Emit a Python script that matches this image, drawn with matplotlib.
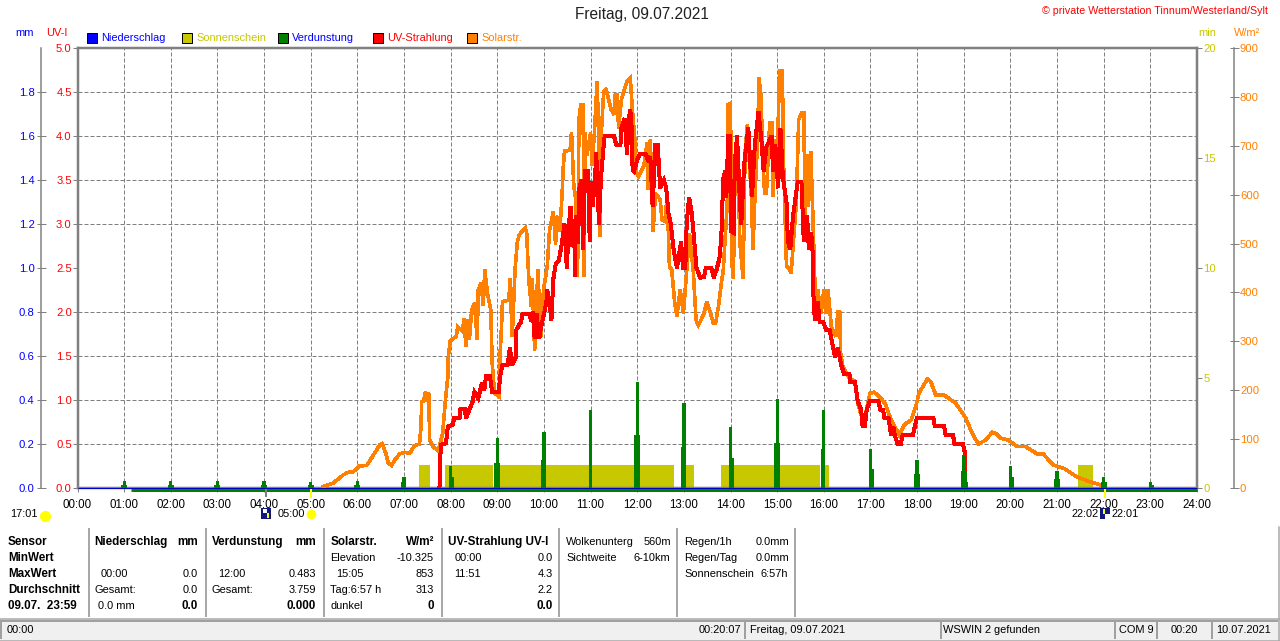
import matplotlib
matplotlib.use("Agg")
import matplotlib.pyplot as plt
from matplotlib.patches import Rectangle
from matplotlib.transforms import offset_copy

plt.rcParams['font.family'] = ['Liberation Sans', 'DejaVu Sans']

# Solarstrahlung (Stunde, W/m2)
sol_h = [5.27,5.48,5.70,5.80,5.91,6.05,6.20,6.30,6.48,6.53,6.61,6.66,6.73,6.80,6.91,7.01,7.12,7.23,7.33,7.36,
         7.38,7.42,7.46,7.48,7.53,7.55,7.62,7.73,7.83,7.88,7.94,7.95,7.99,8.12,8.15,8.26,8.28,8.33,8.37,8.40,
         8.45,8.51,8.57,8.59,8.65,8.70,8.73,8.79,8.86,8.89,8.94,9.04,9.06,9.09,9.11,9.25,9.27,9.32,9.38,9.43,
         9.47,9.60,9.63,9.65,9.68,9.73,9.75,9.80,9.84,9.87,9.93,9.99,10.07,10.12,10.20,10.25,10.27,10.34,10.39,10.41,
         10.44,10.56,10.59,10.64,10.68,10.72,10.75,10.79,10.84,10.86,10.88,10.92,11.00,11.03,11.08,11.14,11.17,11.20,11.23,11.28,
         11.33,11.39,11.44,11.50,11.53,11.57,11.60,11.66,11.71,11.78,11.85,11.89,11.95,11.98,12.03,12.14,12.21,12.23,12.28,12.34,
         12.39,12.49,12.53,12.60,12.64,12.69,12.74,12.80,12.85,12.92,12.99,13.06,13.12,13.16,13.20,13.26,13.31,13.42,13.49,13.56,
         13.63,13.68,13.74,13.81,13.84,13.93,13.95,14.00,14.02,14.06,14.09,14.16,14.20,14.27,14.31,14.36,14.40,14.45,14.48,14.52,
         14.58,14.61,14.66,14.68,14.73,14.77,14.84,14.90,14.91,14.95,15.00,15.05,15.11,15.14,15.20,15.25,15.30,15.36,15.41,15.46,
         15.52,15.57,15.60,15.64,15.67,15.72,15.77,15.80,15.84,15.87,15.94,16.00,16.04,16.09,16.16,16.26,16.30,16.34,16.36,16.41,
         16.55,16.67,16.73,16.83,16.90,16.99,17.08,17.23,17.33,17.44,17.62,17.72,17.87,17.97,18.04,18.22,18.29,18.40,18.58,18.83,
         19.04,19.18,19.31,19.47,19.61,19.68,19.79,19.96,20.14,20.32,20.57,20.71,20.92,21.17,21.42,21.67,22.03]
sol_w = [3,10,27,32,33,45,46,61,88,91,71,52,46,57,70,73,71,87,90,119,
         177,177,197,177,194,98,85,76,112,173,228,269,301,310,330,320,347,289,344,303,
         364,378,303,405,419,374,446,398,364,255,194,187,275,330,381,385,429,310,446,504,
         518,532,521,477,419,371,429,282,378,446,310,405,453,528,566,498,556,525,603,651,
         689,691,727,617,590,433,753,784,784,433,727,680,727,660,725,832,725,515,725,811,
         815,794,774,764,805,805,736,794,811,832,839,781,712,644,637,658,706,610,712,525,
         603,590,549,545,603,453,446,381,351,405,357,446,521,480,446,344,333,354,381,361,
         337,337,371,425,440,583,784,787,467,429,603,664,501,429,685,743,671,590,487,590,
         712,839,794,692,603,603,747,747,597,712,671,853,853,651,453,450,440,520,583,753,
         767,767,559,682,576,689,542,440,344,405,357,405,357,405,330,310,361,361,275,248,
         224,218,173,139,153,194,196,183,170,139,108,129,139,166,194,223,218,190,190,173,
         143,112,90,98,114,112,102,98,85,85,70,69,47,39,23,14,3]

# UV-Strahlung (Stunde, UV-I)
uv_h = [7.76,7.77,7.79,7.90,7.94,8.05,8.07,8.19,8.21,8.30,8.33,8.40,8.47,8.51,8.59,8.67,8.72,8.76,8.84,8.89,
        9.03,9.06,9.11,9.22,9.27,9.32,9.40,9.41,9.51,9.54,9.70,9.72,9.76,9.80,9.84,9.90,9.93,10.00,10.05,10.07,
        10.12,10.16,10.20,10.25,10.32,10.39,10.44,10.49,10.53,10.57,10.61,10.64,10.67,10.68,10.73,10.75,10.80,10.84,10.88,10.95,
        10.98,11.00,11.04,11.09,11.12,11.18,11.22,11.26,11.30,11.50,11.55,11.64,11.66,11.73,11.78,11.82,11.85,11.88,11.90,11.93,
        12.00,12.05,12.18,12.25,12.28,12.33,12.39,12.44,12.49,12.57,12.62,12.67,12.72,12.78,12.85,12.94,12.98,13.03,13.06,13.11,
        13.16,13.20,13.27,13.35,13.43,13.47,13.59,13.64,13.70,13.77,13.81,13.84,13.88,13.91,13.95,13.99,14.01,14.07,14.09,14.14,
        14.20,14.23,14.29,14.38,14.41,14.46,14.52,14.60,14.66,14.71,14.77,14.88,14.91,14.96,15.02,15.07,15.12,15.20,15.23,15.28,
        15.34,15.44,15.52,15.57,15.64,15.68,15.73,15.77,15.78,15.81,15.87,15.91,15.98,16.05,16.12,16.24,16.30,16.37,16.44,16.55,
        16.57,16.67,16.73,16.80,16.83,16.88,16.92,16.99,17.17,17.21,17.27,17.30,17.39,17.44,17.49,17.52,17.58,17.65,17.69,17.91,
        17.99,18.35,18.38,18.58,18.61,18.77,18.80,18.98,19.02,19.04]
uv_i = [0.0,0.24,0.49,0.51,0.70,0.72,0.79,0.79,0.90,0.90,0.79,0.89,0.98,1.09,1.02,1.19,1.11,1.27,1.27,1.09,
        1.09,1.27,1.40,1.40,1.59,1.40,1.49,1.80,1.89,1.98,1.98,1.89,2.0,1.70,1.98,1.70,1.81,1.98,2.10,2.25,
        2.10,1.91,2.37,2.54,2.59,2.80,3.00,2.50,2.95,3.20,2.75,3.05,2.40,3.10,2.78,3.39,3.50,2.71,3.60,3.60,
        2.80,3.48,3.20,3.45,3.81,3.00,3.50,3.77,4.00,4.00,3.90,3.90,4.09,4.20,3.79,4.20,4.30,4.10,3.62,3.60,
        3.73,3.79,3.79,3.70,3.77,3.20,3.90,3.90,3.41,3.50,3.41,3.12,3.00,2.71,2.50,2.80,2.50,2.50,3.00,3.30,
        3.16,2.94,2.50,2.39,2.40,2.50,2.50,2.39,2.48,2.63,2.94,3.50,3.60,3.30,4.00,4.00,2.92,2.90,3.69,4.00,
        3.26,3.00,3.66,4.10,3.80,3.31,3.90,4.28,3.96,3.60,3.88,4.00,3.60,3.90,3.41,4.09,3.54,3.24,2.80,2.71,
        3.09,3.48,3.48,2.80,3.10,2.71,2.90,2.60,2.10,1.91,2.12,1.89,1.89,1.80,1.80,1.49,1.59,1.40,1.29,1.29,
        1.20,1.20,0.98,0.89,0.70,0.70,0.89,0.99,0.99,0.89,0.89,0.79,0.79,0.60,0.70,0.60,0.50,0.50,0.60,0.60,
        0.79,0.79,0.70,0.70,0.60,0.60,0.50,0.50,0.41,0.0]

# Verdunstung je Ablesung (Stunde, mm)
evap_h = [1,0.97,1.03,2,1.97,2.03,3,2.97,3.03,4,3.97,4.03,5,4.97,5.03,6,5.97,6.03,7,6.97,
          8,8.04,9,8.97,9.03,10,9.97,11,12,11.97,12.03,13,12.97,14,14.04,15,14.97,15.03,16,15.97,
          17,17.04,18,17.97,18.03,19,18.97,19.03,20,20.04,21,20.97,21.03,22,21.97,22.03,23,23.04]
evap_mm = [0.03,0.012,0.012,0.03,0.012,0.012,0.03,0.012,0.012,0.03,0.012,0.012,0.029,0.012,0.012,0.033,0.012,0.012,0.05,0.029,
           0.10,0.05,0.229,0.112,0.112,0.256,0.127,0.355,0.483,0.241,0.241,0.385,0.188,0.279,0.135,0.405,0.203,0.203,0.355,0.176,
           0.177,0.085,0.127,0.062,0.062,0.15,0.077,0.077,0.10,0.048,0.077,0.039,0.039,0.052,0.029,0.029,0.029,0.014]
evap_line_h = [1.15, 24]
evap_line_mm = [0, 0]

# Sonnenschein (Beginn, Ende, Minuten)
sun_start = [7.33,7.87,8.93,12.96,13.04,13.79,15.94]
sun_end = [7.55,8.91,12.78,13.03,13.21,15.91,16.12]
sun_min = [1.05,1.05,1.05,1.05,1.05,1.05,1.05]
sun_start2 = [21.44]
sun_end2 = [21.78]
sun_min2 = [1.05]

# Niederschlag
rain_h = [0, 24]
rain_mm = [0, 0]

hour_labels = ['%02d:00' % h for h in range(25)]
uv_ticks = [0,0.5,1,1.5,2,2.5,3,3.5,4,4.5,5]
mm_ticks = [0,0.2,0.4,0.6,0.8,1.0,1.2,1.4,1.6,1.8]
min_ticks = [0,5,10,15,20]
grid_ticks = [2,4,6,8,10,12,14,16,18]
w_ticks = [0,100,200,300,400,500,600,700,800,900]

legend_names = ['Niederschlag','Sonnenschein','Verdunstung','UV-Strahlung','Solarstr.']
legend_box = ['#0000FF','#C8C800','#008000','#FF0000','#FF8000']
legend_text = ['#0000FF','#C8C800','#0000FF','#FF0000','#FF8000']
legend_x = [87,182,277.5,372.5,467]

GREY = '#808080'
FS = 7.9
FSB = 8.4
FST = 8.1
px = 0.72

fig = plt.figure(figsize=(12.8, 6.41), dpi=100)
pos = [77.5/1280, 1-488/641, (1197-77.5)/1280, 440/641]

ax_min = fig.add_axes(pos, zorder=1)
ax_w = fig.add_axes(pos, zorder=2, sharex=ax_min)
ax_uv = fig.add_axes(pos, zorder=3, sharex=ax_min)
ax_mm = fig.add_axes(pos, zorder=4, sharex=ax_min)
for a in [ax_w, ax_uv, ax_mm]:
    a.patch.set_visible(False)

# Sonnenschein und Gitter
ax_min.bar(sun_start, sun_min, width=[e-s for s, e in zip(sun_start, sun_end)], align='edge', color='#C8C800', lw=0)
ax_min.bar(sun_start2, sun_min2, width=[e-s for s, e in zip(sun_start2, sun_end2)], align='edge', color='#C8C800', lw=0)
ax_min.set_ylim(0, 20)
ax_min.set_xlim(0, 24)
ax_min.set_xticks(range(25))
ax_min.set_xticklabels(hour_labels, fontsize=FST+0.2)
ax_min.set_axisbelow(True)
ax_min.tick_params(axis='x', length=3, width=1*px, color=GREY, pad=5)
ax_min.yaxis.tick_right()
ax_min.set_yticks(min_ticks)
ax_min.set_yticks(grid_ticks, minor=True)
ax_min.grid(True, axis='x', color=GREY, lw=1*px, linestyle=(0, (4, 2)))
ax_min.grid(True, which='minor', axis='y', color=GREY, lw=1*px, linestyle=(0, (4, 2)))
ax_min.tick_params(axis='y', which='minor', length=0)
ax_min.tick_params(axis='y', which='major', length=5*px, width=1*px, color=GREY, labelcolor='#C8C800', labelsize=FST, pad=1)
for s in ax_min.spines.values():
    s.set_color(GREY)
    s.set_linewidth(2.5*px)

# Solarstrahlung
ax_w.plot(sol_h, sol_w, color='#FF8000', lw=2.6*px, antialiased=False, solid_joinstyle='miter')
ax_w.set_ylim(0, 900)
ax_w.set_yticks(w_ticks)
ax_w.yaxis.tick_right()
ax_w.spines['right'].set_position(('outward', 37*px))
ax_w.spines['right'].set_color(GREY)
ax_w.spines['right'].set_linewidth(1.5*px)
for k in ['left', 'top', 'bottom']:
    ax_w.spines[k].set_visible(False)
ax_w.tick_params(axis='y', direction='inout', length=9*px, width=1*px, color=GREY, labelcolor='#FF8000', labelsize=FST, pad=1)
ax_w.tick_params(axis='x', length=0, labelbottom=False)

# UV-Strahlung
ax_uv.plot(uv_h, uv_i, color='#FF0000', lw=3*px, antialiased=False, solid_joinstyle='miter')
ax_uv.set_ylim(0, 5)
ax_uv.set_yticks(uv_ticks)
ax_uv.set_yticklabels(['%.1f' % v for v in uv_ticks])
for s in ax_uv.spines.values():
    s.set_visible(False)
ax_uv.tick_params(axis='y', length=5*px, width=1*px, color=GREY, labelcolor='#FF0000', labelsize=FST, pad=0.5)
ax_uv.tick_params(axis='x', length=0, labelbottom=False)

# Verdunstung und Niederschlag, gruene Linie knapp unter der blauen
down = offset_copy(ax_mm.transData, fig=fig, y=-1.5*px, units='points')
ax_mm.plot(evap_line_h, evap_line_mm, color='#008000', lw=3*px, clip_on=False, solid_capstyle='butt', transform=down)
ax_mm.bar(evap_h, evap_mm, width=0.07, color='#008000', lw=0)
ax_mm.plot(rain_h, rain_mm, color='#0000C8', lw=1*px, clip_on=False, solid_capstyle='butt')
ax_mm.set_ylim(0, 2)
ax_mm.set_yticks(mm_ticks)
ax_mm.set_yticklabels(['%.1f' % v for v in mm_ticks])
ax_mm.spines['left'].set_position(('outward', 37*px))
ax_mm.spines['left'].set_color(GREY)
ax_mm.spines['left'].set_linewidth(1.5*px)
for k in ['right', 'top', 'bottom']:
    ax_mm.spines[k].set_visible(False)
ax_mm.tick_params(axis='y', direction='inout', length=9*px, width=1*px, color=GREY, labelcolor='#0000FF', labelsize=FST, pad=1)
ax_mm.tick_params(axis='x', length=0, labelbottom=False)

# Overlay in Pixeln: Kopf, Legende, Tabelle, Statuszeile
ov = fig.add_axes([0, 0, 1, 1], zorder=10)
ov.set_xlim(0, 1280)
ov.set_ylim(641, 0)
ov.axis('off')

def txt(x, y, s, color='black', ha='left', bold=False, size=None):
    if size is None:
        size = FSB if bold else FS
    ov.text(x, y, s, color=color, ha=ha, va='center', fontsize=size,
            fontweight='bold' if bold else 'normal')

txt(642, 15, 'Freitag, 09.07.2021', ha='center', size=11.2, color='#202020')
txt(1268, 11, '© private Wetterstation Tinnum/Westerland/Sylt', color='#FF0000', ha='right', size=7.7)
txt(15, 33, 'mm', color='#0000FF')
txt(46, 33, 'UV-I', color='#FF0000')
txt(1198, 33, 'min', color='#C8C800')
txt(1234, 33, 'W/m²', color='#FF8000')

for name, box, col, x in zip(legend_names, legend_box, legend_text, legend_x):
    ov.add_patch(Rectangle((x, 33), 10, 10, facecolor=box, edgecolor='black', lw=1*px))
    txt(x+14.5, 38, name, color=col)

# Sonnenaufgang / Untergang
ov.plot([310.7, 310.7], [490, 497], color='#FFFF00', lw=2*px)
ov.plot([1104.5, 1104.5], [490, 497], color='#FFFF00', lw=2*px)
ov.plot([265.5, 265.5], [490, 496], color=GREY, lw=2*px)
txt(10, 514, '17:01')
ov.plot([44.5], [516], marker='o', color='#FFFF00', ms=8, mew=0, clip_on=False)
ov.add_patch(Rectangle((39, 516), 11, 4, facecolor='white', lw=0))
ov.add_patch(Rectangle((261, 508), 10, 11, facecolor='#101880', lw=0))
ov.add_patch(Rectangle((263, 509), 4, 4, facecolor='white', lw=0))
ov.add_patch(Rectangle((267, 513), 2, 5, facecolor='#FFFF00', lw=0))
txt(278, 514, '05:00')
ov.plot([311], [514], 'o', color='#FFFF00', ms=7, mew=0)
txt(1072, 514, '22:02')
ov.add_patch(Rectangle((1100, 508), 10, 11, facecolor='#101880', lw=0))
ov.add_patch(Rectangle((1105, 514), 5, 5, facecolor='white', lw=0))
ov.add_patch(Rectangle((1103, 509), 2, 5, facecolor='#FFFF00', lw=0))
txt(1112, 514, '22:01')

rows = [541.7, 557.7, 573.7, 589.7, 605.7]
for x in [88.5, 205.5, 323.5, 441.7, 559.3, 677.3, 795.3]:
    ov.plot([x, x], [528, 617], color='#A8A8A8', lw=2*px, solid_capstyle='butt')

for r, s in zip(rows, ['Sensor', 'MinWert', 'MaxWert', 'Durchschnitt', '09.07.  23:59']):
    txt(8, r, s, bold=True)

txt(94.7, rows[0], 'Niederschlag', bold=True)
txt(198, rows[0], 'mm', ha='right', bold=True)
txt(100.7, rows[2], '00:00')
txt(198, rows[2], '0.0', ha='right')
txt(94.7, rows[3], 'Gesamt:')
txt(198, rows[3], '0.0', ha='right')
txt(97.7, rows[4], '0.0 mm')
txt(198, rows[4], '0.0', ha='right', bold=True)

txt(212, rows[0], 'Verdunstung', bold=True)
txt(316, rows[0], 'mm', ha='right', bold=True)
txt(218, rows[2], '12:00')
txt(316, rows[2], '0.483', ha='right')
txt(212, rows[3], 'Gesamt:')
txt(316, rows[3], '3.759', ha='right')
txt(316, rows[4], '0.000', ha='right', bold=True)

txt(330.5, rows[0], 'Solarstr.', bold=True)
txt(434, rows[0], 'W/m²', ha='right', bold=True)
txt(330.5, rows[1], 'Elevation')
txt(434, rows[1], '-10.325', ha='right')
txt(336, rows[2], '15:05')
txt(434, rows[2], '853', ha='right')
txt(330.5, rows[3], 'Tag:6:57 h')
txt(434, rows[3], '313', ha='right')
txt(330.5, rows[4], 'dunkel')
txt(434, rows[4], '0', ha='right', bold=True)

txt(448.5, rows[0], 'UV-Strahlung UV-I', bold=True)
txt(454.5, rows[1], '00:00')
txt(552.5, rows[1], '0.0', ha='right')
txt(454.5, rows[2], '11:51')
txt(552.5, rows[2], '4.3', ha='right')
txt(552.5, rows[3], '2.2', ha='right')
txt(552.5, rows[4], '0.0', ha='right', bold=True)

txt(566, rows[0], 'Wolkenunterg')
txt(671, rows[0], '560m', ha='right')
txt(566.5, rows[1], 'Sichtweite')
txt(670.5, rows[1], '6-10km', ha='right')

txt(684.5, rows[0], 'Regen/1h')
txt(789.5, rows[0], '0.0mm', ha='right')
txt(684.5, rows[1], 'Regen/Tag')
txt(789.5, rows[1], '0.0mm', ha='right')
txt(684.5, rows[2], 'Sonnenschein')
txt(788, rows[2], '6:57h', ha='right')

# Statuszeile
ov.add_patch(Rectangle((0, 619), 1280, 22, facecolor='#F0F0F0', lw=0))
ov.plot([0, 1280], [618.5, 618.5], color='#A8A8A8', lw=1.5*px)
ov.plot([0, 1280], [640.5, 640.5], color='#A8A8A8', lw=1.5*px)
ov.plot([1279, 1279], [527, 641], color='#A8A8A8', lw=1.5*px)
for x0, x1 in [(1, 744), (745, 940), (941, 1113), (1115, 1155), (1157, 1210), (1212, 1277)]:
    ov.plot([x0, x0, x1], [638, 621, 621], color='#A0A0A0', lw=2*px, solid_joinstyle='miter')
txt(7, 630, '00:00')
txt(741, 630, '00:20:07', ha='right')
txt(750, 630, 'Freitag, 09.07.2021')
txt(943, 630, 'WSWIN 2 gefunden')
txt(1119, 630, 'COM 9')
txt(1184, 630, '00:20', ha='center')
txt(1244, 630, '10.07.2021', ha='center')

plt.savefig('out.png', dpi=100)
